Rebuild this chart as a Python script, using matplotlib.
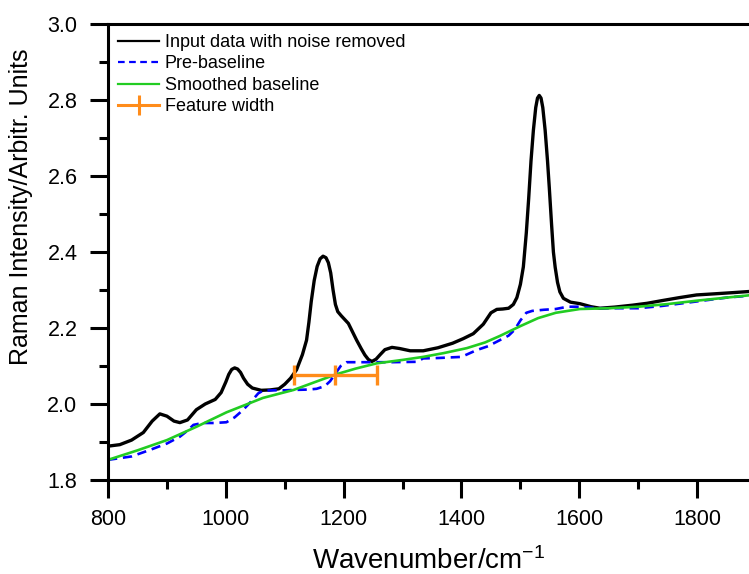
import matplotlib
matplotlib.use("Agg")
import matplotlib.pyplot as plt
from matplotlib.lines import Line2D
from matplotlib.ticker import MultipleLocator, FormatStrFormatter

plt.rcParams["font.family"] = ["Liberation Sans", "DejaVu Sans"]
plt.rcParams["mathtext.default"] = "regular"

# input data with noise removed
raw_x = [800, 820, 840, 860, 875, 888, 900, 912, 922, 935, 950, 965, 982, 992,
         1000, 1005, 1010, 1015, 1020, 1025, 1030, 1037, 1045, 1060, 1075, 1090,
         1100, 1110, 1120, 1130, 1137, 1141, 1145, 1150, 1155, 1160, 1165, 1170,
         1174, 1178, 1182, 1186, 1190, 1196, 1202, 1208, 1215, 1222, 1230, 1236,
         1242, 1248, 1255, 1262, 1270, 1282, 1295, 1313, 1335, 1360, 1385, 1403,
         1420, 1437, 1450, 1460, 1470, 1480, 1488, 1494, 1500, 1505, 1510, 1514,
         1518, 1522, 1526, 1529, 1532, 1535, 1538, 1542, 1546, 1549, 1553, 1556,
         1559, 1563, 1567, 1573, 1585, 1601, 1620, 1635, 1660, 1690, 1715, 1740,
         1770, 1799, 1830, 1860, 1888]
raw_y = [1.889, 1.893, 1.905, 1.925, 1.955, 1.974, 1.968, 1.955, 1.951, 1.958,
         1.985, 2.000, 2.012, 2.030, 2.058, 2.078, 2.091, 2.095, 2.092, 2.083,
         2.068, 2.052, 2.042, 2.036, 2.037, 2.040, 2.052, 2.068, 2.090, 2.130,
         2.168, 2.215, 2.270, 2.325, 2.362, 2.382, 2.389, 2.385, 2.372, 2.345,
         2.300, 2.262, 2.243, 2.232, 2.222, 2.212, 2.190, 2.168, 2.145, 2.129,
         2.117, 2.112, 2.118, 2.130, 2.143, 2.149, 2.146, 2.140, 2.140, 2.148,
         2.160, 2.172, 2.185, 2.210, 2.240, 2.249, 2.250, 2.252, 2.262, 2.280,
         2.315, 2.361, 2.450, 2.540, 2.640, 2.720, 2.780, 2.805, 2.812, 2.805,
         2.780, 2.720, 2.640, 2.570, 2.470, 2.400, 2.360, 2.320, 2.295, 2.278,
         2.268, 2.264, 2.256, 2.252, 2.255, 2.260, 2.265, 2.272, 2.280, 2.287,
         2.290, 2.293, 2.296]

# pre-baseline
pre_x = [800, 840, 871, 900, 922, 935, 945, 960, 980, 1001, 1015, 1029, 1045,
         1055, 1063, 1080, 1100, 1115, 1140, 1154, 1168, 1177, 1185, 1195, 1205,
         1230, 1280, 1324, 1335, 1360, 1400, 1426, 1445, 1465, 1480, 1490, 1500,
         1510, 1520, 1540, 1560, 1580, 1600, 1630, 1660, 1700, 1740, 1800, 1850,
         1888]
pre_y = [1.853, 1.862, 1.879, 1.896, 1.914, 1.930, 1.945, 1.950, 1.950, 1.952,
         1.965, 1.984, 2.010, 2.028, 2.035, 2.036, 2.036, 2.037, 2.038, 2.040,
         2.047, 2.060, 2.078, 2.100, 2.110, 2.110, 2.110, 2.111, 2.120, 2.121,
         2.124, 2.142, 2.152, 2.168, 2.180, 2.195, 2.220, 2.240, 2.245, 2.248,
         2.250, 2.256, 2.256, 2.252, 2.252, 2.252, 2.258, 2.270, 2.280, 2.285]

# smoothed baseline
base_x = [800, 850, 900, 950, 1001, 1063, 1115, 1187, 1220, 1256, 1300, 1335,
          1370, 1409, 1440, 1465, 1500, 1530, 1560, 1601, 1650, 1700, 1750,
          1800, 1850, 1888]
base_y = [1.853, 1.878, 1.905, 1.940, 1.978, 2.016, 2.037, 2.078, 2.093, 2.107,
          2.116, 2.124, 2.134, 2.147, 2.162, 2.179, 2.205, 2.226, 2.240, 2.250,
          2.252, 2.256, 2.263, 2.272, 2.280, 2.286]

# feature width
feat_center = 1186
feat_half = 71
feat_y = 2.076

black = "#000000"
blue = "#0000FF"
green = "#22CC22"
orange = "#FF8C1A"

fig = plt.figure(figsize=(7.49, 5.74), dpi=100)
ax = fig.add_axes([108 / 749, 94 / 574, 641 / 749, 456 / 574])

ax.plot(raw_x, raw_y, color=black, lw=2.4)
ax.plot(pre_x, pre_y, color=blue, lw=1.9, ls=(0, (3.5, 2.2)))
ax.plot(base_x, base_y, color=green, lw=1.9)
ax.errorbar([feat_center], [feat_y], xerr=[feat_half], fmt="none",
            ecolor=orange, elinewidth=2.4, capsize=7.5, capthick=2.4)
ax.plot([feat_center], [feat_y], marker="|", ms=15, mew=2.4, color=orange)

handles = [
    Line2D([], [], color=black, lw=1.6),
    Line2D([], [], color=blue, lw=1.6, ls=(0, (3, 2))),
    Line2D([], [], color=green, lw=1.6),
    Line2D([], [], color=orange, lw=2.2, marker="|", ms=15, mew=2.2),
]
labels = ["Input data with noise removed", "Pre-baseline",
          "Smoothed baseline", "Feature width"]
ax.legend(handles, labels, loc="upper left", frameon=False, fontsize=13,
          handlelength=2.3, handletextpad=0.3, labelspacing=0.25,
          borderaxespad=0.15, bbox_to_anchor=(0.0, 1.0))

ax.set_xlim(800, 1888)
ax.set_ylim(1.8, 3.0)
ax.xaxis.set_major_locator(MultipleLocator(200))
ax.xaxis.set_minor_locator(MultipleLocator(100))
ax.yaxis.set_major_locator(MultipleLocator(0.2))
ax.yaxis.set_minor_locator(MultipleLocator(0.1))
ax.yaxis.set_major_formatter(FormatStrFormatter("%.1f"))

for side in ["left", "bottom", "top"]:
    ax.spines[side].set_linewidth(2.2)
ax.spines["right"].set_visible(False)
ax.tick_params(which="major", direction="out", length=13, width=2.2,
               labelsize=15.5)
ax.tick_params(axis="x", which="major", pad=8)
ax.tick_params(axis="y", which="major", pad=9)
ax.tick_params(which="minor", direction="out", length=6.5, width=2.2)
ax.tick_params(top=False, right=False)

ax.set_xlabel("Wavenumber/cm$^{-1}$", fontsize=20)
ax.xaxis.set_label_coords(0.5, -0.148)
ax.set_ylabel("Raman Intensity/Arbitr. Units", fontsize=18)
ax.yaxis.set_label_coords(-0.117, 0.599)

fig.savefig("out.png", dpi=100)
